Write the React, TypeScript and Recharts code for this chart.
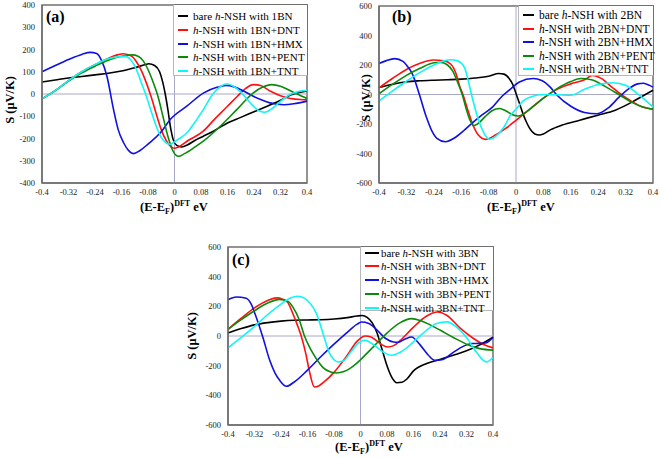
import { LineChart, Line, XAxis, YAxis, ReferenceLine, ReferenceArea } from 'recharts';

type Pt = [number, number];

const xTicks = [-0.4, -0.32, -0.24, -0.16, -0.08, 0, 0.08, 0.16, 0.24, 0.32, 0.4];
const yTicksA = [-400, -300, -200, -100, 0, 100, 200, 300, 400];
const yTicksBC = [-600, -400, -200, 0, 200, 400, 600];

const seriesColors = ['#000000', '#ff1010', '#1010e0', '#0a8a0a', '#10f5f5'];

const legendA = ['bare h-NSH with 1BN', 'h-NSH with 1BN+DNT', 'h-NSH with 1BN+HMX', 'h-NSH with 1BN+PENT', 'h-NSH with 1BN+TNT'];
const legendB = ['bare h-NSH with 2BN', 'h-NSH with 2BN+DNT', 'h-NSH with 2BN+HMX', 'h-NSH with 2BN+PENT', 'h-NSH with 2BN+TNT'];
const legendC = ['bare h-NSH with 3BN', 'h-NSH with 3BN+DNT', 'h-NSH with 3BN+HMX', 'h-NSH with 3BN+PENT', 'h-NSH with 3BN+TNT'];

// ---- panel (a): 1BN ----
const a_bare: Pt[] = [
  [-0.4, 54], [-0.36, 63], [-0.32, 72], [-0.28, 79], [-0.24, 86], [-0.2, 93], [-0.16, 103], [-0.12, 118],
  [-0.09, 131], [-0.078, 136], [-0.06, 128], [-0.045, 100], [-0.035, 50], [-0.028, 0], [-0.02, -70],
  [-0.012, -150], [-0.004, -205], [0.006, -230], [0.022, -238], [0.04, -228], [0.06, -210], [0.087, -190],
  [0.12, -165], [0.16, -130], [0.2, -105], [0.24, -80], [0.28, -55], [0.32, -28], [0.35, -5], [0.38, 8], [0.4, 14],
];
const a_dnt: Pt[] = [
  [-0.4, -22], [-0.36, 15], [-0.32, 60], [-0.28, 100], [-0.24, 132], [-0.2, 160], [-0.17, 177], [-0.155, 181],
  [-0.13, 170], [-0.115, 145], [-0.1, 105], [-0.085, 50], [-0.07, -15], [-0.055, -90], [-0.04, -160],
  [-0.025, -210], [-0.01, -238], [0.0, -244], [0.012, -238], [0.04, -210], [0.087, -167], [0.12, -115],
  [0.14, -85], [0.16, -55], [0.19, -10], [0.215, 25], [0.238, 42], [0.26, 38], [0.29, 12], [0.32, -8],
  [0.35, -20], [0.38, -25], [0.4, -26],
];
const a_hmx: Pt[] = [
  [-0.4, 100], [-0.36, 128], [-0.32, 155], [-0.28, 178], [-0.254, 187], [-0.235, 182], [-0.22, 150],
  [-0.204, 80], [-0.184, -70], [-0.17, -160], [-0.154, -218], [-0.14, -252], [-0.124, -268], [-0.105, -255],
  [-0.08, -225], [-0.04, -170], [-0.013, -115], [0.037, -55], [0.087, 4], [0.128, 30], [0.155, 38],
  [0.18, 32], [0.21, 12], [0.238, -10], [0.26, -25], [0.288, -40], [0.33, -48], [0.36, -44], [0.4, -32],
];
const a_pent: Pt[] = [
  [-0.4, -22], [-0.36, 15], [-0.32, 58], [-0.28, 95], [-0.24, 125], [-0.2, 152], [-0.16, 170], [-0.128, 176],
  [-0.11, 170], [-0.095, 150], [-0.08, 110], [-0.065, 55], [-0.05, -10], [-0.035, -100], [-0.02, -190],
  [-0.005, -255], [0.012, -280], [0.03, -268], [0.06, -240], [0.087, -212], [0.138, -145], [0.188, -70],
  [0.238, 5], [0.265, 30], [0.293, 42], [0.32, 35], [0.345, 18], [0.37, 0], [0.4, -20],
];
const a_tnt: Pt[] = [
  [-0.4, -22], [-0.36, 15], [-0.32, 60], [-0.28, 100], [-0.24, 132], [-0.2, 158], [-0.165, 168], [-0.149, 169],
  [-0.13, 150], [-0.115, 110], [-0.1, 50], [-0.085, -10], [-0.07, -80], [-0.055, -145], [-0.04, -195],
  [-0.025, -220], [-0.012, -226], [0.0, -214], [0.02, -195], [0.037, -175], [0.06, -130], [0.087, -70],
  [0.118, 4], [0.14, 35], [0.158, 46], [0.178, 35], [0.198, 12], [0.22, -25], [0.24, -58], [0.258, -78],
  [0.273, -82], [0.295, -65], [0.32, -33], [0.34, -10], [0.36, 4], [0.38, 13], [0.4, 16],
];

// ---- panel (b): 2BN ----
const b_bare: Pt[] = [
  [-0.4, 47], [-0.36, 70], [-0.32, 86], [-0.28, 93], [-0.24, 97], [-0.2, 100], [-0.16, 104], [-0.12, 112],
  [-0.08, 124], [-0.05, 142], [-0.035, 138], [-0.02, 108], [-0.01, 70], [0.0, 7], [0.01, -60], [0.02, -128],
  [0.03, -185], [0.04, -230], [0.055, -268], [0.068, -275], [0.08, -268], [0.1, -240], [0.135, -207],
  [0.186, -174], [0.239, -140], [0.29, -106], [0.34, -50], [0.37, -10], [0.4, 29],
];
const b_dnt: Pt[] = [
  [-0.4, 45], [-0.36, 110], [-0.32, 170], [-0.28, 212], [-0.242, 234], [-0.21, 228], [-0.19, 205],
  [-0.175, 140], [-0.165, 60], [-0.155, 0], [-0.14, -110], [-0.125, -210], [-0.11, -275], [-0.089, -304],
  [-0.06, -275], [-0.03, -230], [0.0, -175], [0.04, -100], [0.08, -25], [0.12, 35], [0.16, 72], [0.2, 100],
  [0.223, 130], [0.25, 108], [0.28, 50], [0.31, -5], [0.34, -50], [0.37, -85], [0.4, -100],
];
const b_hmx: Pt[] = [
  [-0.4, 210], [-0.38, 228], [-0.354, 243], [-0.33, 225], [-0.315, 185], [-0.303, 142], [-0.283, 7],
  [-0.262, -151], [-0.245, -250], [-0.231, -297], [-0.206, -320], [-0.18, -295], [-0.15, -240],
  [-0.129, -196], [-0.1, -140], [-0.068, -84], [-0.04, -10], [-0.017, 35], [0.01, 85], [0.05, 108],
  [0.075, 95], [0.1, 50], [0.12, -5], [0.16, -80], [0.2, -122], [0.237, -130], [0.27, -90], [0.3, -20],
  [0.33, 40], [0.355, 72], [0.372, 76], [0.39, 62], [0.4, 50],
];
const b_pent: Pt[] = [
  [-0.4, 5], [-0.36, 70], [-0.32, 130], [-0.28, 178], [-0.24, 215], [-0.22, 218], [-0.2, 200],
  [-0.185, 160], [-0.17, 80], [-0.157, 0], [-0.145, -100], [-0.135, -170], [-0.124, -212], [-0.11, -195],
  [-0.09, -150], [-0.07, -110], [-0.048, -95], [-0.03, -110], [-0.01, -138], [0.005, -146], [0.02, -135],
  [0.04, -100], [0.08, -25], [0.12, 40], [0.16, 88], [0.19, 108], [0.22, 100], [0.26, 55], [0.3, 0],
  [0.34, -55], [0.37, -85], [0.4, -100],
];
const b_tnt: Pt[] = [
  [-0.4, -43], [-0.36, 25], [-0.32, 90], [-0.28, 150], [-0.24, 200], [-0.21, 228], [-0.19, 236],
  [-0.17, 228], [-0.15, 180], [-0.14, 100], [-0.13, 0], [-0.115, -130], [-0.1, -230], [-0.078, -304],
  [-0.06, -285], [-0.035, -220], [-0.016, -140], [0.0, -100], [0.02, -45], [0.045, -15], [0.08, 0],
  [0.12, -2], [0.16, -5], [0.2, 35], [0.24, 68], [0.285, 80], [0.32, 62], [0.36, -5], [0.4, -85],
];

// ---- panel (c): 3BN ----
const c_bare: Pt[] = [
  [-0.4, 20], [-0.36, 50], [-0.32, 75], [-0.28, 90], [-0.24, 100], [-0.2, 106], [-0.16, 108], [-0.12, 110],
  [-0.08, 115], [-0.04, 124], [-0.01, 135], [0.005, 138], [0.02, 126], [0.035, 90], [0.05, 20],
  [0.065, -90], [0.08, -200], [0.095, -280], [0.11, -315], [0.125, -312], [0.14, -290], [0.16, -235],
  [0.2, -185], [0.24, -158], [0.28, -130], [0.32, -100], [0.36, -60], [0.4, -8],
];
const c_dnt: Pt[] = [
  [-0.4, 45], [-0.36, 120], [-0.32, 190], [-0.28, 240], [-0.253, 257], [-0.235, 248], [-0.22, 228],
  [-0.204, 150], [-0.19, 70], [-0.179, 0], [-0.165, -120], [-0.155, -230], [-0.139, -344], [-0.125, -335],
  [-0.11, -310], [-0.08, -245], [-0.04, -130], [-0.01, -35], [0.015, 0], [0.03, -5], [0.05, -35],
  [0.065, -60], [0.083, -74], [0.1, -65], [0.12, -30], [0.16, 60], [0.2, 135], [0.232, 162], [0.26, 140],
  [0.3, 55], [0.34, -15], [0.37, -55], [0.4, -80],
];
const c_hmx: Pt[] = [
  [-0.4, 245], [-0.375, 263], [-0.345, 254], [-0.33, 215], [-0.315, 128], [-0.295, -7], [-0.274, -164],
  [-0.258, -250], [-0.244, -299], [-0.224, -339], [-0.2, -310], [-0.16, -230], [-0.12, -140], [-0.08, -55],
  [-0.04, 25], [-0.01, 80], [0.003, 94], [0.025, 85], [0.05, 40], [0.075, -15], [0.1, -40], [0.114, -42],
  [0.135, -20], [0.154, -7], [0.18, -60], [0.205, -130], [0.224, -164], [0.245, -160], [0.28, -110],
  [0.31, -70], [0.335, -51], [0.36, -50], [0.38, -45], [0.4, -10],
];
const c_pent: Pt[] = [
  [-0.4, 45], [-0.36, 110], [-0.32, 170], [-0.28, 222], [-0.244, 247], [-0.22, 235], [-0.204, 195],
  [-0.185, 110], [-0.169, 0], [-0.155, -70], [-0.143, -119], [-0.125, -180], [-0.113, -213], [-0.09, -242],
  [-0.073, -249], [-0.05, -240], [-0.02, -200], [0.0, -160], [0.04, -70], [0.08, 20], [0.12, 90],
  [0.154, 117], [0.18, 105], [0.21, 75], [0.24, 40], [0.28, -10], [0.32, -55], [0.36, -85], [0.4, -95],
];
const c_tnt: Pt[] = [
  [-0.4, -80], [-0.36, -10], [-0.32, 65], [-0.28, 145], [-0.24, 215], [-0.21, 258], [-0.189, 268],
  [-0.17, 255], [-0.15, 215], [-0.133, 151], [-0.113, 16], [-0.093, -119], [-0.08, -160], [-0.068, -175],
  [-0.05, -165], [-0.03, -110], [-0.01, -55], [0.013, -29], [0.04, -60], [0.07, -110], [0.094, -130],
  [0.12, -110], [0.16, -40], [0.2, 40], [0.23, 85], [0.26, 95], [0.29, 60], [0.32, -10], [0.35, -110],
  [0.38, -175], [0.4, -145],
];

const serif = 'Liberation Serif, Times New Roman, serif';
const frameColor = '#707070';

function LegendLabel({ text }: { text: string }) {
  const i = text.indexOf('h-NSH');
  return (
    <span>
      {text.slice(0, i)}
      <i>h</i>
      {text.slice(i + 1)}
    </span>
  );
}

type PanelProps = {
  left: number;
  top: number;
  width: number;
  height: number;
  margin: { top: number; right: number; bottom: number; left: number };
  yWidth: number;
  xHeight: number;
  yTicks: number[];
  series: Pt[][];
};

function Panel({ left, top, width, height, margin, yWidth, xHeight, yTicks, series }: PanelProps) {
  const yMin = yTicks[0];
  const yMax = yTicks[yTicks.length - 1];
  return (
    <div style={{ position: 'absolute', left, top, width, height }}>
      <LineChart width={width} height={height} margin={margin}>
        <ReferenceArea
          x1={-0.4}
          x2={0.4}
          y1={yMin}
          y2={yMax}
          ifOverflow="visible"
          fill="#ffffff"
          fillOpacity={0}
          stroke={frameColor}
          strokeWidth={1.5}
          strokeOpacity={1}
        />
        <ReferenceLine y={0} stroke="#a8a8c8" strokeWidth={1} />
        <ReferenceLine x={0} stroke="#a8a8c8" strokeWidth={1} />
        <XAxis
          type="number"
          dataKey="x"
          domain={[-0.4, 0.4]}
          ticks={xTicks}
          height={xHeight}
          axisLine={{ stroke: frameColor, strokeWidth: 1.5 }}
          tickLine={false}
          tickSize={4}
          tickMargin={2}
          interval={0}
          tick={{ fontSize: 8.5, fill: '#222', fontFamily: serif }}
          tickFormatter={(v: number) => String(Number(v.toFixed(2)))}
        />
        <YAxis
          type="number"
          domain={[yMin, yMax]}
          ticks={yTicks}
          width={yWidth}
          axisLine={{ stroke: frameColor, strokeWidth: 1.5 }}
          tickLine={false}
          tickSize={4}
          tickMargin={3}
          interval={0}
          tick={{ fontSize: 8.5, fill: '#222', fontFamily: serif }}
        />
        {series.map((pts, k) => (
          <Line
            key={k}
            data={pts.map(([x, y]) => ({ x, y }))}
            dataKey="y"
            type="monotone"
            stroke={seriesColors[k]}
            strokeWidth={1.6}
            dot={false}
            isAnimationActive={false}
          />
        ))}
      </LineChart>
    </div>
  );
}

function LegendBox({ left, top, width, height, first, step, sampleW, textX, fontSize, labels }: {
  left: number; top: number; width: number; height: number; first: number; step: number;
  sampleW: number; textX: number; fontSize: number; labels: string[];
}) {
  return (
    <div style={{ position: 'absolute', zIndex: 3, left, top, width, height, borderLeft: '1px solid #b8b8b8', borderBottom: '1px solid #b8b8b8', borderTop: `1px solid ${frameColor}`, borderRight: `1px solid ${frameColor}`, background: '#fff', boxSizing: 'border-box' }}>
      {labels.map((t, k) => (
        <div key={k} style={{ position: 'absolute', left: 0, top: first + k * step - 7, height: 14, width: width, fontSize, fontFamily: serif, lineHeight: '14px', whiteSpace: 'nowrap' }}>
          <div style={{ position: 'absolute', left: 4, top: 6, width: sampleW, height: 2, background: seriesColors[k] }} />
          <div style={{ position: 'absolute', left: textX, top: 0 }}><LegendLabel text={t} /></div>
        </div>
      ))}
    </div>
  );
}

function XTitle({ cx, cy }: { cx: number; cy: number }) {
  return (
    <div style={{ position: 'absolute', left: cx - 50, top: cy - 8, width: 100, height: 16, textAlign: 'center', fontFamily: serif, fontWeight: 'bold', fontSize: 12.5, lineHeight: '16px', whiteSpace: 'nowrap' }}>
      (E-E<span style={{ fontSize: 8, position: 'relative', top: 3 }}>F</span>)<span style={{ fontSize: 8, position: 'relative', top: -5 }}>DFT</span> eV
    </div>
  );
}

function YTitle({ cx, cy }: { cx: number; cy: number }) {
  return (
    <div style={{ position: 'absolute', left: cx - 40, top: cy - 8, width: 80, height: 16, textAlign: 'center', transform: 'rotate(-90deg)', fontFamily: serif, fontWeight: 'bold', fontSize: 12.5, lineHeight: '16px', whiteSpace: 'nowrap' }}>
      S (μV/K)
    </div>
  );
}

function Tag({ x, y, t }: { x: number; y: number; t: string }) {
  return (
    <div style={{ position: 'absolute', zIndex: 4, left: x, top: y, fontFamily: serif, fontWeight: 'bold', fontSize: 16, lineHeight: '16px' }}>{t}</div>
  );
}

export default function App() {
  return (
    <div style={{ position: 'absolute', left: 0, top: 0, width: 661, height: 458, background: '#fff', overflow: 'hidden' }}>
      <Panel left={0} top={0} width={330} height={230} margin={{ top: 5, right: 23, bottom: 17, left: 0 }}
        yWidth={42} xHeight={30} yTicks={yTicksA} series={[a_bare, a_dnt, a_hmx, a_pent, a_tnt]} />
      <Panel left={330} top={0} width={331} height={230} margin={{ top: 6, right: 8, bottom: 17, left: 0 }}
        yWidth={49} xHeight={30} yTicks={yTicksBC} series={[b_bare, b_dnt, b_hmx, b_pent, b_tnt]} />
      <Panel left={180} top={240} width={320} height={218} margin={{ top: 7, right: 7, bottom: 13, left: 0 }}
        yWidth={48} xHeight={20} yTicks={yTicksBC} series={[c_bare, c_dnt, c_hmx, c_pent, c_tnt]} />

      <LegendBox left={173} top={4} width={135} height={72} first={11} step={13.8} sampleW={10} textX={19} fontSize={11.1} labels={legendA} />
      <LegendBox left={518} top={5} width={136} height={71} first={9} step={13.5} sampleW={11} textX={20} fontSize={11.5} labels={legendB} />
      <LegendBox left={360} top={246} width={134} height={65} first={5.5} step={13.8} sampleW={14} textX={20} fontSize={10.9} labels={legendC} />

      <Tag x={46} y={9} t="(a)" />
      <Tag x={392} y={9} t="(b)" />
      <Tag x={232} y={252} t="(c)" />

      <YTitle cx={10} cy={100} />
      <YTitle cx={366} cy={98} />
      <YTitle cx={192} cy={336} />

      <XTitle cx={174} cy={207} />
      <XTitle cx={521} cy={207} />
      <XTitle cx={369} cy={447} />
    </div>
  );
}
